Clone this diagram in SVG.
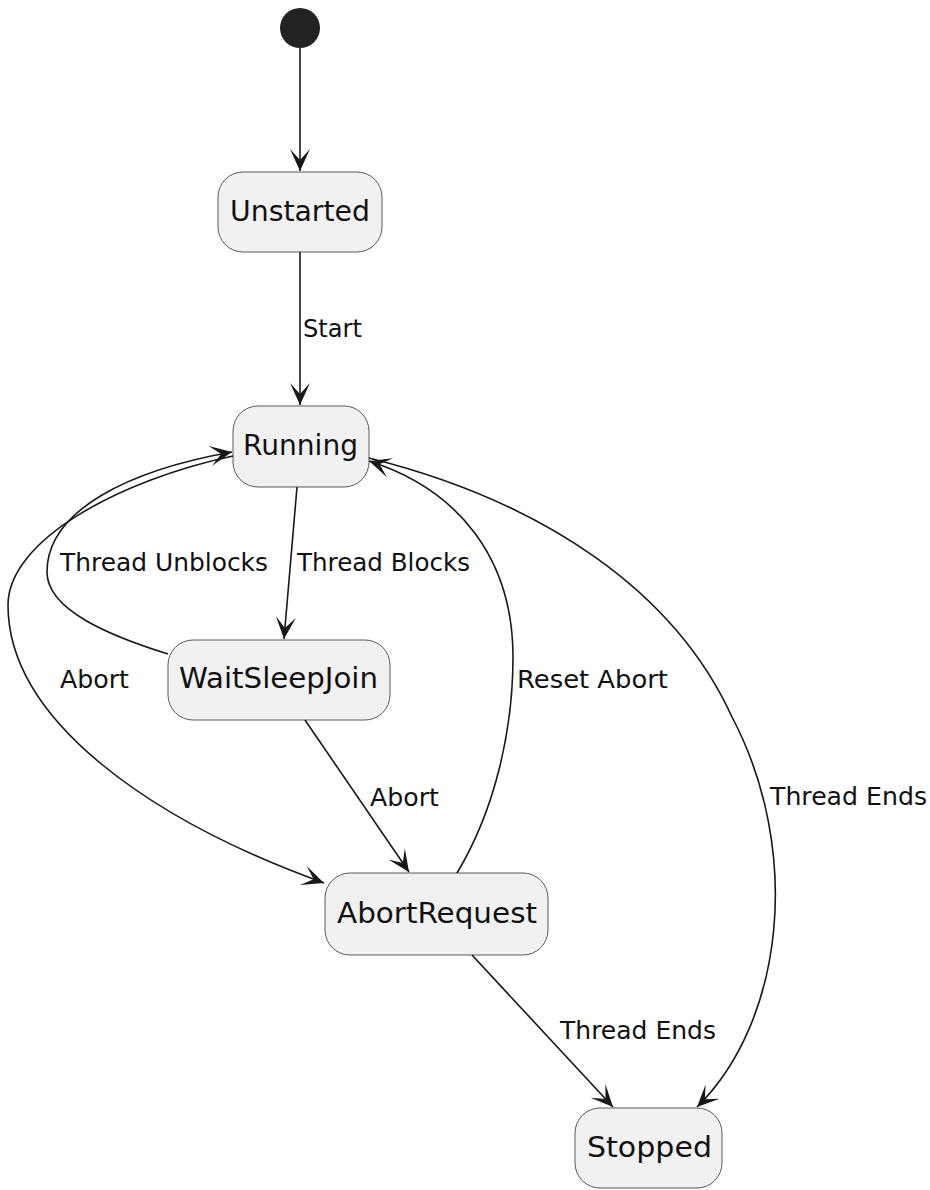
<svg xmlns="http://www.w3.org/2000/svg" width="930" height="1190" viewBox="0 0 930 1190">
<style>
.node rect{fill:#F1F1F1;stroke:#5a5a5a;stroke-width:1}
.node text{font-family:"DejaVu Sans",sans-serif;font-size:27.5px;fill:#111}
.edge{fill:none;stroke:#181818;stroke-width:1.6;marker-end:url(#arr)}
.lbl{font-family:"DejaVu Sans",sans-serif;font-size:24.5px;fill:#111}
</style>
<defs>
<marker id="arr" markerUnits="userSpaceOnUse" viewBox="-24 -12 26 24" markerWidth="26" markerHeight="24" refX="0" refY="0" orient="auto">
<path d="M0,0 L-22,-10 L-11,0 L-22,10 Z" fill="#181818"/>
</marker>
</defs>
<g id="start"><circle cx="300" cy="28" r="20" fill="#222222"/></g>
<g id="Unstarted" class="node"><rect x="218" y="172" width="164" height="80" rx="25" ry="25"/><text x="230" y="221" textLength="140" lengthAdjust="spacingAndGlyphs">Unstarted</text></g>
<g id="Running" class="node"><rect x="233" y="406" width="136" height="81" rx="25" ry="25"/><text x="243" y="455" textLength="115" lengthAdjust="spacingAndGlyphs">Running</text></g>
<g id="WaitSleepJoin" class="node"><rect x="168" y="640" width="222" height="80" rx="25" ry="25"/><text x="179" y="688" textLength="199" lengthAdjust="spacingAndGlyphs">WaitSleepJoin</text></g>
<g id="AbortRequest" class="node"><rect x="325" y="873" width="223" height="82" rx="25" ry="25"/><text x="337" y="923" textLength="200" lengthAdjust="spacingAndGlyphs">AbortRequest</text></g>
<g id="Stopped" class="node"><rect x="575" y="1108" width="147" height="80" rx="25" ry="25"/><text x="587" y="1157" textLength="125" lengthAdjust="spacingAndGlyphs">Stopped</text></g>
<g id="connectors">
<path class="edge" d="M300,48 L300,171"/>
<path class="edge" d="M300,252 L300,405"/>
<path class="edge" d="M297,487 L284,639"/>
<path class="edge" d="M168,654 C110,636 47,610 47,572 C47,510 130,470 232,452"/>
<path class="edge" d="M233,456 C120,480 8,540 8,605 C8,720 150,820 324,883"/>
<path class="edge" d="M305,720 L409,872"/>
<path class="edge" d="M457,873 C495,810 513,730 513,657 C513,560 460,490 369,461"/>
<path class="edge" d="M369,458 C545,502 675,592 732,717 C802,850 785,1020 697,1107"/>
<path class="edge" d="M472,955 L613,1107"/>
<text class="lbl" x="303" y="337" textLength="59" lengthAdjust="spacingAndGlyphs">Start</text>
<text class="lbl" x="297" y="571" textLength="173" lengthAdjust="spacingAndGlyphs">Thread Blocks</text>
<text class="lbl" x="60" y="571" textLength="208" lengthAdjust="spacingAndGlyphs">Thread Unblocks</text>
<text class="lbl" x="60" y="688" textLength="69" lengthAdjust="spacingAndGlyphs">Abort</text>
<text class="lbl" x="370" y="806" textLength="69" lengthAdjust="spacingAndGlyphs">Abort</text>
<text class="lbl" x="517" y="688" textLength="151" lengthAdjust="spacingAndGlyphs">Reset Abort</text>
<text class="lbl" x="770" y="805" textLength="157" lengthAdjust="spacingAndGlyphs">Thread Ends</text>
<text class="lbl" x="560" y="1039" textLength="156" lengthAdjust="spacingAndGlyphs">Thread Ends</text>
</g>
</svg>
